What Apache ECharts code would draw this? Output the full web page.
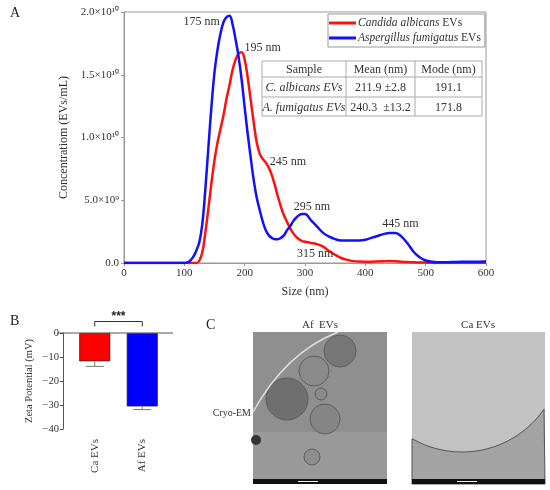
<!DOCTYPE html>
<html>
<head>
<meta charset="utf-8">
<script src="https://cdn.jsdelivr.net/npm/echarts@6/dist/echarts.min.js"></script>
<style>
html, body { margin: 0; padding: 0; background: #fff; }
#main { width: 550px; height: 490px; }
</style>
</head>
<body>
<div id="main"></div>
<script>
// ---- A: size distribution, concentration in units of 1e10 EVs/mL
const sizes = [0, 100, 105, 110, 115, 120, 125, 130, 135, 140, 145, 150, 155, 160, 165, 170, 175, 180, 185, 190,
  195, 200, 205, 210, 215, 220, 225, 230, 235, 240, 245, 250, 255, 260, 265, 270, 275, 280, 285, 290,
  295, 300, 310, 320, 330, 340, 350, 360, 370, 380, 390, 400, 410, 420, 430, 440, 450, 460, 470, 480,
  490, 500, 510, 520, 540, 560, 580, 600]
const caConc = [0, 0, 0, 0, 0, 0, 0.02, 0.09, 0.25, 0.44, 0.64, 0.82, 0.96, 1.07, 1.18, 1.31, 1.42, 1.54, 1.62, 1.67,
  1.68, 1.62, 1.48, 1.30, 1.12, 0.96, 0.87, 0.83, 0.80, 0.76, 0.70, 0.62, 0.53, 0.45, 0.38, 0.33, 0.28, 0.24, 0.21, 0.19,
  0.175, 0.17, 0.16, 0.15, 0.13, 0.095, 0.065, 0.04, 0.025, 0.015, 0.011, 0.01, 0.01, 0.012, 0.014, 0.016, 0.014, 0.01, 0.007, 0.005,
  0.004, 0.003, 0.001, 0, 0, 0, 0, 0]
const afConc = [0, 0, 0.005, 0.02, 0.05, 0.10, 0.17, 0.32, 0.60, 0.93, 1.25, 1.52, 1.70, 1.83, 1.92, 1.96, 1.97, 1.90, 1.78, 1.64,
  1.46, 1.24, 1.03, 0.84, 0.66, 0.52, 0.42, 0.33, 0.26, 0.22, 0.20, 0.19, 0.19, 0.20, 0.22, 0.26, 0.29, 0.33, 0.36, 0.38,
  0.39, 0.39, 0.34, 0.29, 0.24, 0.21, 0.19, 0.18, 0.18, 0.18, 0.18, 0.185, 0.20, 0.215, 0.23, 0.24, 0.24, 0.21, 0.155, 0.09,
  0.045, 0.02, 0.01, 0.006, 0.007, 0.009, 0.01, 0.011]
const seriesNames = ['Candida albicans EVs', 'Aspergillus fumigatus EVs']
const caPeaks = [[195, 1.68, '195 nm'], [245, 0.70, '245 nm'], [315, 0.155, '315 nm']]
const afPeaks = [[175, 1.97, '175 nm'], [295, 0.39, '295 nm'], [445, 0.24, '445 nm']]
const tableHead = ['Sample', 'Mean (nm)', 'Mode (nm)']
const tableRows = [
  ['C. albicans EVs', '211.9 ±2.8', '191.1'],
  ['A. fumigatus EVs', '240.3  ±13.2', '171.8']
]

// ---- B: zeta potential
const zetaCats = ['Ca EVs', 'Af EVs']
const zetaMean = [-11.8, -30.6]
const zetaSd = [2.1, 1.3]
const sigLabel = '***'

// ---- C: cryo-EM panel titles
const emTitles = ['Af  EVs', 'Ca EVs']

const serif = 'Liberation Serif'
const txt = '#333'
const axisGray = '#999'

const caOffsets = [[21, -4], [16, -13], [1, 10]]
const afOffsets = [[-28, 6], [10, -7], [8, -9]]

function supNum (v) {
  if (v === 0) return '0.0'
  const sup = { 0: '⁰', 1: '¹', 2: '²', 3: '³', 4: '⁴', 5: '⁵', 6: '⁶', 7: '⁷', 8: '⁸', 9: '⁹' }
  let e = 10
  let m = v
  while (m < 1) { m *= 10; e -= 1 }
  return m.toFixed(1) + '×10' + String(e).split('').map(d => sup[d]).join('')
}

function peakMarks (peaks, offsets) {
  return {
    symbol: 'circle',
    symbolSize: 0,
    silent: true,
    label: { show: true, formatter: '{b}', color: txt, fontFamily: serif, fontSize: 12 },
    data: peaks.map((p, i) => ({ name: p[2], coord: [p[0], p[1]], label: { offset: offsets[i] } }))
  }
}

// table inside panel A
function tableGraphic () {
  const xs = [262, 346, 415, 482]
  const ys = [61, 77, 97, 116]
  const children = []
  children.push({ type: 'rect', shape: { x: xs[0], y: ys[0], width: xs[3] - xs[0], height: ys[3] - ys[0] }, style: { fill: '#fff', stroke: '#aaa', lineWidth: 1 } })
  for (let i = 1; i < 3; i++) {
    children.push({ type: 'line', shape: { x1: xs[i], y1: ys[0], x2: xs[i], y2: ys[3] }, style: { stroke: '#aaa', lineWidth: 1 } })
    children.push({ type: 'line', shape: { x1: xs[0], y1: ys[i], x2: xs[3], y2: ys[i] }, style: { stroke: '#aaa', lineWidth: 1 } })
  }
  const rows = [tableHead].concat(tableRows)
  rows.forEach((r, ri) => {
    r.forEach((c, ci) => {
      children.push({
        type: 'text',
        style: {
          text: c,
          x: (xs[ci] + xs[ci + 1]) / 2,
          y: (ys[ri] + ys[ri + 1]) / 2 + 1,
          textAlign: 'center',
          textVerticalAlign: 'middle',
          fontFamily: serif,
          fontSize: 12,
          fontStyle: (ri > 0 && ci === 0) ? 'italic' : 'normal',
          fill: txt
        }
      })
    })
  })
  return { type: 'group', children }
}

// cryo-EM micrograph stand-ins
function emGraphic () {
  const children = []
  const L = { x: 253, y: 332, w: 134, h: 152 }
  const R = { x: 412, y: 332, w: 133, h: 152 }
  children.push({ type: 'rect', shape: { x: L.x, y: L.y, width: L.w, height: L.h }, style: { fill: '#8f8f8f' } })
  children.push({ type: 'rect', shape: { x: L.x, y: L.y + 100, width: L.w, height: 52 }, style: { fill: '#999' } })
  const ves = [[287, 399, 21, '#6f6f6f'], [340, 351, 16, '#777'], [314, 371, 15, '#8a8a8a'], [325, 419, 15, '#858585'], [321, 394, 6, '#8a8a8a'], [312, 457, 8, '#8d8d8d']]
  ves.forEach(v => children.push({ type: 'circle', shape: { cx: v[0], cy: v[1], r: v[2] }, style: { fill: v[3], stroke: '#5e5e5e', lineWidth: 1 } }))
  children.push({ type: 'circle', shape: { cx: 256, cy: 440, r: 5 }, style: { fill: '#333' } })
  children.push({ type: 'bezierCurve', shape: { x1: 253, y1: 412, x2: 338, y2: 332, cpx1: 275, cpy1: 372, cpx2: 305, cpy2: 345 }, style: { stroke: '#ddd', lineWidth: 1.5, fill: 'none' } })
  children.push({ type: 'rect', shape: { x: L.x, y: L.y + L.h - 5, width: L.w, height: 5 }, style: { fill: '#111' } })
  children.push({ type: 'line', shape: { x1: L.x + 45, y1: L.y + L.h - 2.5, x2: L.x + 65, y2: L.y + L.h - 2.5 }, style: { stroke: '#eee', lineWidth: 1 } })

  children.push({ type: 'rect', shape: { x: R.x, y: R.y, width: R.w, height: R.h }, style: { fill: '#c2c2c2' } })
  const cx = 462; const cy = 352; const r = 100
  const pts = [[R.x, R.y + R.h]]
  for (let x = R.x; x <= R.x + R.w; x += 3) {
    const dx = x - cx
    const yy = Math.abs(dx) < r ? cy + Math.sqrt(r * r - dx * dx) : R.y + 40
    pts.push([x, Math.min(yy, R.y + R.h)])
  }
  pts.push([R.x + R.w, R.y + R.h])
  children.push({ type: 'polygon', shape: { points: pts }, style: { fill: '#a3a3a3', stroke: '#555', lineWidth: 1 } })
  children.push({ type: 'rect', shape: { x: R.x, y: R.y + R.h - 5, width: R.w, height: 5 }, style: { fill: '#111' } })
  children.push({ type: 'line', shape: { x1: R.x + 45, y1: R.y + R.h - 2.5, x2: R.x + 65, y2: R.y + R.h - 2.5 }, style: { stroke: '#eee', lineWidth: 1 } })

  children.push({ type: 'text', style: { text: emTitles[0], x: 320, y: 325, textAlign: 'center', textVerticalAlign: 'middle', fontFamily: serif, fontSize: 11, fill: txt } })
  children.push({ type: 'text', style: { text: emTitles[1], x: 478, y: 325, textAlign: 'center', textVerticalAlign: 'middle', fontFamily: serif, fontSize: 11, fill: txt } })
  children.push({ type: 'text', style: { text: 'Cryo-EM', x: 251, y: 413, textAlign: 'right', textVerticalAlign: 'middle', fontFamily: serif, fontSize: 10, fill: txt } })
  return { type: 'group', children }
}

const panelLetters = ['A', 'B', 'C'].map((t, i) => ({
  type: 'text',
  style: { text: t, x: [10, 10, 206][i], y: [13, 321, 325][i], textVerticalAlign: 'middle', fontFamily: serif, fontSize: 14, fill: '#222' }
}))

const option = {
  animation: false,
  textStyle: { fontFamily: serif },
  legend: {
    left: 328,
    top: 14,
    orient: 'vertical',
    icon: 'rect',
    itemWidth: 27,
    itemHeight: 3,
    itemGap: 3,
    padding: [3, 4, 3, 1],
    borderColor: '#999',
    borderWidth: 1,
    data: seriesNames,
    formatter (name) {
      const sp = name.replace(' EVs', '')
      return `{i|${sp}} EVs`
    },
    textStyle: {
      color: txt,
      fontFamily: serif,
      fontSize: 11.5,
      padding: [0, 0, 0, -3],
      rich: { i: { fontStyle: 'italic', color: txt, fontFamily: serif, fontSize: 11.5 } }
    }
  },
  grid: [
    { left: 124, top: 12, width: 362, height: 251, show: true, borderColor: axisGray, borderWidth: 1 },
    { left: 71, top: 333, width: 95, height: 96 }
  ],
  xAxis: [{
    gridIndex: 0,
    type: 'value',
    min: 0,
    max: 600,
    interval: 100,
    name: 'Size (nm)',
    nameLocation: 'middle',
    nameGap: 23,
    nameTextStyle: { color: txt, fontFamily: serif, fontSize: 12 },
    axisLine: { show: true, lineStyle: { color: axisGray } },
    axisTick: { show: true, length: 3, lineStyle: { color: axisGray } },
    axisLabel: { color: txt, fontFamily: serif, fontSize: 11, margin: 5 },
    splitLine: { show: false }
  }, {
    gridIndex: 1,
    type: 'category',
    data: zetaCats,
    axisLine: { show: false },
    axisTick: { show: true, alignWithLabel: true, length: 4, lineStyle: { color: '#777' } },
    axisLabel: { rotate: 90, color: txt, fontFamily: serif, fontSize: 11, margin: 10 }
  }],
  yAxis: [{
    gridIndex: 0,
    type: 'value',
    min: 0,
    max: 2,
    interval: 0.5,
    name: 'Concentratiom (EVs/mL)',
    nameLocation: 'middle',
    nameGap: 43,
    nameTextStyle: { color: txt, fontFamily: serif, fontSize: 12 },
    axisLine: { show: true, lineStyle: { color: axisGray } },
    axisTick: { show: true, length: 3, lineStyle: { color: axisGray } },
    axisLabel: { color: txt, fontFamily: serif, fontSize: 11, margin: 5, formatter: supNum },
    splitLine: { show: false }
  }, {
    gridIndex: 1,
    type: 'value',
    min: -40,
    max: 0,
    interval: 10,
    offset: 8,
    name: 'Zeta Potential (mV)',
    nameLocation: 'middle',
    nameGap: 28,
    nameTextStyle: { color: txt, fontFamily: serif, fontSize: 10.5 },
    axisLine: { show: true, lineStyle: { color: '#555' } },
    axisTick: { show: true, length: 3, lineStyle: { color: '#555' } },
    axisLabel: { color: txt, fontFamily: serif, fontSize: 10.5, margin: 4, formatter: v => v < 0 ? '−' + Math.abs(v) : String(v) },
    splitLine: { show: false }
  }],
  series: [{
    name: seriesNames[0],
    type: 'line',
    xAxisIndex: 0,
    yAxisIndex: 0,
    smooth: 0.4,
    symbol: 'none',
    lineStyle: { color: '#ff1010', width: 2.5 },
    itemStyle: { color: '#ff1010' },
    data: sizes.map((s, i) => [s, caConc[i]]),
    markPoint: peakMarks(caPeaks, caOffsets),
    z: 2
  }, {
    name: seriesNames[1],
    type: 'line',
    xAxisIndex: 0,
    yAxisIndex: 0,
    smooth: 0.4,
    symbol: 'none',
    lineStyle: { color: '#1010ff', width: 2.5 },
    itemStyle: { color: '#1010ff' },
    data: sizes.map((s, i) => [s, afConc[i]]),
    markPoint: peakMarks(afPeaks, afOffsets),
    z: 3
  }, {
    type: 'bar',
    xAxisIndex: 1,
    yAxisIndex: 1,
    barWidth: 31,
    data: zetaMean.map((v, i) => ({
      value: v,
      itemStyle: { color: ['#ff0000', '#0000ff'][i], borderColor: '#222', borderWidth: 0.8 }
    }))
  }, {
    type: 'custom',
    xAxisIndex: 1,
    yAxisIndex: 1,
    data: zetaMean.map((v, i) => [i, v, zetaSd[i]]),
    renderItem (params, api) {
      const x = api.value(0)
      const m = api.value(1)
      const sd = api.value(2)
      const p0 = api.coord([x, m])
      const p1 = api.coord([x, m - sd])
      const half = 9
      const st = { stroke: '#777', lineWidth: 1 }
      return {
        type: 'group',
        children: [
          { type: 'line', shape: { x1: p0[0], y1: p0[1], x2: p1[0], y2: p1[1] }, style: st },
          { type: 'line', shape: { x1: p1[0] - half, y1: p1[1], x2: p1[0] + half, y2: p1[1] }, style: st }
        ]
      }
    },
    z: 3
  }, {
    type: 'custom',
    xAxisIndex: 1,
    yAxisIndex: 1,
    clip: false,
    data: [[0, 0, 1]],
    encode: { x: 0, y: 1 },
    renderItem (params, api) {
      const a = api.coord([api.value(0), 0])
      const b = api.coord([api.value(2), 0])
      const y = a[1] - 11.5
      return {
        type: 'group',
        children: [
          { type: 'polyline', shape: { points: [[a[0], y + 5], [a[0], y], [b[0], y], [b[0], y + 5]] }, style: { stroke: '#333', fill: 'none', lineWidth: 1 } },
          { type: 'text', style: { text: sigLabel, x: (a[0] + b[0]) / 2, y: y + 1, textAlign: 'center', textVerticalAlign: 'bottom', fontFamily: 'Liberation Sans', fontWeight: 'bold', fontSize: 12, fill: '#222' } }
        ]
      }
    }
  }],
  graphic: [tableGraphic(), emGraphic()].concat(panelLetters)
}

const chart = echarts.init(document.getElementById('main'))
chart.setOption(option, true)

// zero line of panel B, drawn across the full plot width
const y0 = chart.convertToPixel({ yAxisIndex: 1 }, 0)
chart.setOption({
  graphic: option.graphic.concat([{ type: 'line', shape: { x1: 57, y1: y0, x2: 173, y2: y0 }, style: { stroke: '#555', lineWidth: 1 }, z: 10 }])
})
</script>
</body>
</html>
